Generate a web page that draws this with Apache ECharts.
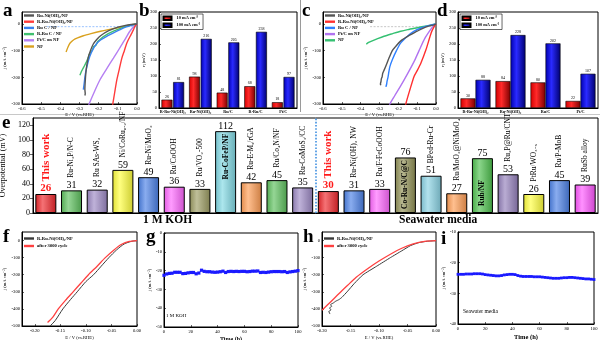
<!DOCTYPE html>
<html><head><meta charset="utf-8">
<script src="https://cdn.jsdelivr.net/npm/echarts@6/dist/echarts.min.js"></script>
<style>html,body{margin:0;padding:0;background:#fff}#c{width:600px;height:340px}</style>
</head><body><div id="c"></div><script>
// ---------------- data ----------------
// (a) HER polarization curves, 1 M KOH  [E (V vs. RHE), j (mA cm-2)]
const aRuNi   = [[0,0],[-0.03,-2],[-0.06,-5],[-0.1,-12],[-0.15,-26],[-0.19,-44],[-0.21,-58],[-0.228,-75],[-0.242,-98],[-0.254,-124],[-0.262,-155],[-0.267,-185],[-0.27,-215],[-0.272,-245],[-0.27,-262],[-0.272,-268]];
const aRRuNi  = [[0,0],[-0.01,-8],[-0.018,-21],[-0.03,-38],[-0.053,-71],[-0.066,-100],[-0.079,-128],[-0.092,-168],[-0.105,-209],[-0.116,-255],[-0.126,-299],[-0.128,-310]];
const aRuC    = [[0,0],[-0.03,-5],[-0.06,-12],[-0.088,-21],[-0.12,-32],[-0.158,-46],[-0.19,-60],[-0.21,-73],[-0.23,-95],[-0.246,-121],[-0.258,-150],[-0.267,-178],[-0.272,-200],[-0.276,-225],[-0.28,-246]];
const aRRuC   = [[0,0],[-0.03,-4],[-0.07,-12],[-0.1,-20],[-0.123,-27],[-0.15,-36],[-0.175,-47],[-0.193,-58],[-0.205,-66],[-0.215,-80],[-0.228,-86],[-0.232,-97],[-0.242,-103],[-0.25,-115],[-0.254,-126],[-0.262,-131],[-0.266,-145],[-0.272,-150],[-0.278,-162],[-0.284,-168],[-0.29,-178],[-0.295,-180],[-0.298,-192]];
const aPtC    = [[0,0],[-0.02,-12],[-0.04,-30],[-0.06,-55],[-0.09,-90],[-0.123,-128],[-0.16,-170],[-0.193,-209],[-0.22,-250],[-0.25,-300],[-0.255,-310]];
const aNF     = [[0,0],[-0.02,-2],[-0.05,-6],[-0.105,-15],[-0.15,-21],[-0.19,-27],[-0.24,-36],[-0.28,-44],[-0.31,-52],[-0.33,-59],[-0.35,-72],[-0.36,-86],[-0.37,-105]];
const aRefLine = [[-0.47,-10],[0,-10]];

// (b) overpotentials, 1 M KOH
const bCats = ['R-Ru-Ni(OH)₂','Ru-Ni(OH)₂','Ru/C','R-Ru/C','Pt/C'];
const b10   = [26, 98, 48, 68, 18];
const b100  = [81, 216, 205, 238, 97];

// (c) HER polarization curves, seawater
const cRuNi   = [[0,0],[-0.01,-3],[-0.04,-8],[-0.07,-16],[-0.1,-27],[-0.14,-42],[-0.19,-65],[-0.215,-85],[-0.232,-100],[-0.248,-125],[-0.262,-150],[-0.275,-172],[-0.283,-185],[-0.286,-198],[-0.29,-205],[-0.292,-215],[-0.295,-225],[-0.293,-230]];
const cRRuNi  = [[0,0],[-0.01,-10],[-0.025,-32],[-0.053,-96],[-0.08,-146],[-0.1,-175],[-0.116,-196],[-0.14,-250],[-0.16,-299],[-0.162,-310]];
const cRuC    = [[0,0],[-0.02,-3],[-0.05,-8],[-0.08,-15],[-0.116,-27],[-0.15,-45],[-0.187,-71],[-0.21,-100],[-0.232,-134],[-0.245,-160],[-0.25,-178],[-0.255,-200],[-0.26,-215],[-0.262,-225],[-0.266,-236]];
const cPtC    = [[0,0],[-0.015,-8],[-0.03,-22],[-0.06,-55],[-0.09,-100],[-0.116,-140],[-0.15,-185],[-0.19,-235],[-0.22,-270],[-0.244,-299],[-0.25,-310]];
const cNF     = [[0,0],[-0.02,-3],[-0.05,-7],[-0.1,-14],[-0.15,-21],[-0.187,-27],[-0.23,-36],[-0.276,-46],[-0.31,-55],[-0.345,-65],[-0.36,-70],[-0.37,-76]];
const cRefLine = [[-0.35,-10],[0,-10]];

// (d) overpotentials, seawater
const dCats = ['R-Ru-Ni(OH)₂','Ru-Ni(OH)₂','Ru/C','Pt/C'];
const d10   = [30, 84, 80, 22];
const d100  = [88, 228, 202, 107];

// (e) comparison with reported catalysts
const kohNames  = ['This work','Ru-Ni₂P/N-C','Ru SAs-WS₂','Ni/CoRu₀.₂/NF','Ru-Ni/MoO₂','Ru/CoOOH','Ru/VO₂-500','Ru-CoFeP/NF','Ru-E-Mₓ/rGA','Ru/Co₄N/NF','Ru-CoMoS₃/CC'];
const kohValues = [26, 31, 32, 59, 49, 36, 33, 112, 42, 45, 35];
const seaNames  = ['This work','Ru-Ni(OH)₂ NW','Ru/F-FeCoOOH','Co-Ru-N/C@C','BPed-Ru-Cr','Ru/MoO₂@NiMoO₄','Rub/NF','Ru₂P@Ru/CNT','PtRu/WO₃₋ₓ','Ru/P-MoB','RuSb alloy'];
const seaValues = [30, 31, 33, 76, 51, 27, 75, 53, 26, 45, 39];

// (f) stability, 1 M KOH
const fTicks  = [-0.2, -0.15, -0.1, -0.05, 0];
const fBefore = [[-0.17,-500],[-0.16,-468],[-0.145,-400],[-0.13,-345],[-0.117,-300],[-0.1,-240],[-0.085,-200],[-0.07,-150],[-0.055,-100],[-0.04,-55],[-0.025,-20],[-0.01,-4],[0,-1]];
const fAfter  = [[-0.175,-480],[-0.165,-450],[-0.154,-400],[-0.14,-350],[-0.125,-300],[-0.11,-250],[-0.095,-200],[-0.078,-150],[-0.062,-100],[-0.045,-55],[-0.03,-22],[-0.015,-5],[0,0]];

// (g) chronoamperometry, 1 M KOH
const gTime = [0,2,4,6,8,10,12,14,16,18,20,22,24,26,28,30,32,34,36,38,40,42,44,46,48,50,52,54,56,58,60,62,64,66,68,70,72,74,76,78,80,82,84,86,88,90,92,94,96,98,100];
const gJ    = [-22.5,-21.8,-21.5,-21.4,-20.9,-20.9,-20.9,-21.6,-21.5,-21.2,-21.0,-21.0,-21.7,-21.3,-19.8,-20.4,-20.6,-20.6,-20.8,-20.9,-20.8,-20.6,-20.3,-21.0,-20.5,-20.4,-20.5,-20.4,-20.5,-20.4,-20.4,-20.6,-20.5,-20.3,-20.3,-20.2,-21.0,-20.9,-21.0,-20.8,-20.6,-20.5,-20.5,-20.5,-20.6,-20.5,-21.0,-20.7,-20.5,-20.3,-20.0];

// (h) stability, seawater
const hBefore = [[-0.186,-430],[-0.188,-415],[-0.184,-405],[-0.187,-395],[-0.183,-385],[-0.185,-375],[-0.18,-365],[-0.176,-355],[-0.17,-345],[-0.165,-332],[-0.156,-300],[-0.143,-250],[-0.128,-200],[-0.104,-150],[-0.08,-100],[-0.06,-60],[-0.045,-30],[-0.03,-12],[-0.015,-4],[0,-1]];
const hAfter  = [[-0.2,-408],[-0.185,-360],[-0.17,-310],[-0.155,-262],[-0.14,-215],[-0.12,-165],[-0.1,-120],[-0.08,-80],[-0.06,-45],[-0.04,-20],[-0.02,-5],[0,-1]];

// (i) chronoamperometry, seawater
const iTime = [0,2,4,6,8,10,12,14,16,18,20,22,24,26,28,30,32,34,36,38,40,42,44,46,48,50,52,54,56,58,60,62,64,66,68,70,72,74,76,78,80,82,84,86,88,90,92,94,96,98,100];
const iJ    = [-23.8,-23.8,-23.8,-23.7,-23.7,-23.7,-23.6,-23.6,-23.6,-23.7,-23.9,-24.0,-24.1,-24.2,-24.3,-24.3,-24.2,-24.0,-23.9,-23.8,-23.8,-23.9,-24.2,-24.4,-24.5,-24.5,-24.5,-24.5,-24.6,-24.6,-24.6,-24.7,-24.8,-24.9,-25.0,-25.1,-25.1,-25.1,-25.0,-24.9,-24.9,-24.8,-24.8,-24.9,-25.0,-25.1,-25.2,-25.3,-25.3,-25.4,-25.5];

// ---------------- styling ----------------
const F = '"Liberation Serif","Times New Roman",serif';
const T = 4.6;           // tiny axis text
const J = 'j (mA cm⁻²)';
const E = 'E / V (vs.RHE)';

const chart = echarts.init(document.getElementById('c'), null, {renderer: 'canvas'});

function grid(left, top, width, height) {
  return {left, top, width, height, show: true, borderColor: '#000', borderWidth: 1,
          backgroundColor: 'transparent', containLabel: false, outerBoundsMode: 'none'};
}
function vAxis(gi, min, max, o) {
  o = o || {};
  return {
    type: 'value', gridIndex: gi, min, max, interval: o.interval,
    name: o.name, nameLocation: 'middle', nameGap: o.nameGap || 10,
    nameTextStyle: Object.assign({fontSize: T, fontFamily: F, color: '#000'}, o.nameStyle || {}),
    axisLine: {show: true, onZero: false, lineStyle: {color: '#000', width: 1}},
    axisTick: Object.assign({show: true, inside: true, length: 2, lineStyle: {color: '#000', width: 0.6}}, o.tick || {}),
    splitLine: {show: false},
    axisLabel: Object.assign({fontSize: T, fontFamily: F, color: '#000', margin: 2, showMaxLabel: o.showMax !== false}, o.label || {}),
    show: o.show !== false
  };
}
function cAxis(gi, data, o) {
  o = o || {};
  return {
    type: 'category', gridIndex: gi, data,
    axisLine: {show: true, onZero: false, lineStyle: {color: '#000', width: 1}},
    axisTick: {show: false},
    splitLine: {show: false},
    axisLabel: Object.assign({fontSize: 4.2, fontFamily: F, fontWeight: 'bold', color: '#000', margin: 2, interval: 0}, o.label || {})
  };
}
function shade(hex, f) {
  const n = parseInt(hex.slice(1), 16);
  let r = n >> 16, g = (n >> 8) & 255, b = n & 255;
  const t = f > 0 ? 255 : 0, p = Math.abs(f);
  r = Math.round(r + (t - r) * p); g = Math.round(g + (t - g) * p); b = Math.round(b + (t - b) * p);
  return 'rgb(' + r + ',' + g + ',' + b + ')';
}
function cyl(c) {
  return new echarts.graphic.LinearGradient(0, 0, 1, 0, [
    {offset: 0, color: shade(c, -0.12)},
    {offset: 0.35, color: shade(c, 0.35)},
    {offset: 1, color: shade(c, -0.2)}
  ]);
}
const RED = new echarts.graphic.LinearGradient(0, 0, 1, 0, [
  {offset: 0, color: '#d40000'}, {offset: 0.4, color: '#ff2a2a'}, {offset: 1, color: '#7a0000'}]);
const BLUE = new echarts.graphic.LinearGradient(0, 0, 1, 0, [
  {offset: 0, color: '#0000b0'}, {offset: 0.4, color: '#2a2aff'}, {offset: 1, color: '#00006e'}]);

function line(name, xi, data, color, extra) {
  return Object.assign({
    type: 'line', name, xAxisIndex: xi, yAxisIndex: xi, data,
    showSymbol: false, symbol: 'none', smooth: 0.25, clip: true,
    lineStyle: {color, width: 1.4}, itemStyle: {color}, silent: true, animation: false
  }, extra || {});
}
function refLine(xi, data, color) {
  return {type: 'line', xAxisIndex: xi, yAxisIndex: xi, data, symbol: 'none', silent: true,
          lineStyle: {color, width: 0.8, type: [2, 1.5]}, animation: false};
}
function bars(name, xi, data, color, width, gap) {
  return {type: 'bar', name, xAxisIndex: xi, yAxisIndex: xi, data, barWidth: width, barGap: gap,
          itemStyle: {color, borderColor: '#000', borderWidth: 0.6},
          label: {show: true, position: 'top', distance: 0.8, fontSize: 4, fontFamily: F, color: '#000'},
          animation: false};
}
function legend(left, top, names, o) {
  return Object.assign({
    left, top, orient: 'vertical', data: names, icon: 'rect', itemWidth: 10, itemHeight: 2.4,
    itemGap: 1.2, padding: 0, selectedMode: false,
    formatter: n => n.split('|').pop(),
    textStyle: {fontSize: 4.6, fontFamily: F, fontWeight: 'bold', color: '#000', padding: [0, 0, 0, -2]}
  }, o || {});
}

// ---- panel e series ----
const eNames = kohNames.concat(seaNames);
const eVals  = kohValues.concat(seaValues);
const ePalette = ['#f0262a','#5cc05c','#9c88c4','#ffff3c','#4a80e6','#ff66ff','#9c9c62','#80d8e4','#ff9c52','#5cc05c','#9c88c4',
                  '#f0262a','#4a80e6','#ff66ff','#929256','#88d2e4','#ff9c52','#4cc04c','#9480bc','#ffff3c','#4a80e6','#ff55ff'];
const insideTop = [7, 14], insideBottom = [17];
const isOwn = i => i === 0 || i === kohValues.length;

const eBarData = eVals.map((v, i) => ({
  value: v,
  itemStyle: {color: cyl(ePalette[i])},
  label: isOwn(i) ? {color: '#ff1a1a', fontWeight: 'bold', fontSize: 11} : {}
}));
const eNameData = eVals.map((v, i) => {
  let lab;
  if (insideTop.includes(i)) {
    lab = {position: 'insideTop', distance: 2.5, align: 'right', fontWeight: 'bold'};
  } else if (insideBottom.includes(i)) {
    lab = {position: 'insideBottom', distance: 7, align: 'left', fontWeight: 'bold'};
  } else {
    lab = {position: 'top', distance: 12.5, align: 'left'};
  }
  if (isOwn(i)) Object.assign(lab, {color: '#ff1a1a', fontWeight: 'bold', fontSize: 11});
  return {value: v, label: lab};
});

const option = {
  backgroundColor: '#fff',
  animation: false,
  textStyle: {fontFamily: F},
  grid: [
    grid(22, 12, 115, 92),     // a
    grid(159, 12, 138, 96),    // b
    grid(323, 12, 113, 92),    // c
    grid(458, 12, 140, 96),    // d
    grid(33, 118, 565, 95),    // e
    grid(22, 232, 115, 94),    // f
    grid(164, 233, 134, 94),   // g
    grid(322, 232, 114, 94),   // h
    grid(458, 232, 136, 92)    // i
  ],
  xAxis: [
    vAxis(0, -0.6, 0, {interval: 0.1, name: E, nameGap: 8, label: {formatter: v => v.toFixed(1)}}),
    cAxis(1, bCats),
    vAxis(2, -0.6, 0, {interval: 0.1, name: E, nameGap: 8, label: {formatter: v => v.toFixed(1)}}),
    cAxis(3, dCats),
    cAxis(4, eNames, {label: {show: false}}),
    vAxis(5, -0.225, 0, {name: E, nameGap: 9, label: {customValues: fTicks, formatter: v => v.toFixed(2)}, tick: {customValues: fTicks}}),
    vAxis(6, 0, 100, {interval: 20, name: 'Time (h)', nameGap: 9, nameStyle: {fontSize: 6, fontWeight: 'bold'}}),
    vAxis(7, -0.2, 0, {interval: 0.05, name: E, nameGap: 9, label: {formatter: v => v.toFixed(2)}}),
    vAxis(8, 0, 100, {interval: 20, name: 'Time (h)', nameGap: 10, nameStyle: {fontSize: 6.5, fontWeight: 'bold'}}),
    {type: 'value', gridIndex: 4, min: 0, max: eVals.length, show: false}
  ],
  yAxis: [
    vAxis(0, -300, 45, {interval: 100, name: J, nameGap: 12, showMax: false}),
    vAxis(1, 0, 300, {interval: 50, name: 'η (mV)', nameGap: 10}),
    vAxis(2, -300, 45, {interval: 100, name: J, nameGap: 12, showMax: false}),
    vAxis(3, 0, 300, {interval: 50, name: 'η (mV)', nameGap: 10}),
    vAxis(4, 0, 130, {interval: 20, name: 'Overpotential (mV)', nameGap: 18, showMax: false,
      nameStyle: {fontSize: 8}, label: {fontSize: 8, margin: 3}, tick: {inside: false, length: 3}}),
    vAxis(5, -500, 50, {interval: 100, name: J, nameGap: 12, showMax: false}),
    vAxis(6, -50, 0, {interval: 10, name: J, nameGap: 10}),
    vAxis(7, -500, 50, {interval: 100, name: J, nameGap: 12, showMax: false}),
    vAxis(8, -40, -10, {interval: 10, name: J, nameGap: 10})
  ],
  legend: [
    legend(24, 13, ['a|Ru-Ni(OH)₂/NF','a|R-Ru-Ni(OH)₂/NF','a|Ru C / NF','a|R-Ru C / NF','a|Pt/C on NF','a|NF']),
    legend(161, 14, ['10 mA cm⁻²','100 mA cm⁻²'], {itemWidth: 8, itemHeight: 3.5, itemGap: 1.5,
      borderColor: '#000', borderWidth: 0.6, padding: [1.5, 3, 1.5, 1.5], textStyle: {fontSize: 4.4, fontFamily: F, fontWeight: 'bold', color: '#000'}}),
    legend(325, 13, ['c|Ru-Ni(OH)₂/NF','c|R-Ru-Ni(OH)₂/NF','c|Ru C / NF','c|Pt/C on NF','c|NF']),
    legend(460, 14, ['10 mA cm⁻²','100 mA cm⁻²'], {itemWidth: 8, itemHeight: 3.5, itemGap: 1.5,
      borderColor: '#000', borderWidth: 0.6, padding: [1.5, 3, 1.5, 1.5], textStyle: {fontSize: 4.4, fontFamily: F, fontWeight: 'bold', color: '#000'}}),
    legend(24, 236, ['f|R-Ru-Ni(OH)₂/NF','f|after 3000 cycle'], {itemGap: 2.5}),
    legend(324, 236, ['h|R-Ru-Ni(OH)₂/NF','h|after 3000 cycle'], {itemGap: 2.5})
  ],
  series: [
    // a
    refLine(0, aRefLine, '#7fb2ff'),
    line('a|NF', 0, aNF, '#d9a11f'),
    line('a|Pt/C on NF', 0, aPtC, '#b57ff2'),
    line('a|R-Ru C / NF', 0, aRRuC, '#3fbf6e', {smooth: false}),
    line('a|Ru C / NF', 0, aRuC, '#3a82f0'),
    line('a|R-Ru-Ni(OH)₂/NF', 0, aRRuNi, '#ff3b3b'),
    line('a|Ru-Ni(OH)₂/NF', 0, aRuNi, '#555555'),
    // b
    bars('10 mA cm⁻²', 1, b10, RED, 11, '6%'),
    bars('100 mA cm⁻²', 1, b100, BLUE, 11, '6%'),
    // c
    refLine(2, cRefLine, '#b8b8b8'),
    line('c|NF', 2, cNF, '#35c072'),
    line('c|Pt/C on NF', 2, cPtC, '#b173f0'),
    line('c|Ru C / NF', 2, cRuC, '#2f80ff'),
    line('c|R-Ru-Ni(OH)₂/NF', 2, cRRuNi, '#ff3030'),
    line('c|Ru-Ni(OH)₂/NF', 2, cRuNi, '#555555'),
    // d
    bars('10 mA cm⁻²', 3, d10, RED, 15, '0%'),
    bars('100 mA cm⁻²', 3, d100, BLUE, 15, '0%'),
    // e
    {type: 'bar', xAxisIndex: 4, yAxisIndex: 4, data: eBarData, barWidth: 21, z: 2,
     itemStyle: {borderColor: '#000', borderWidth: 1},
     label: {show: true, position: 'top', distance: 0, fontSize: 10, fontFamily: F, color: '#000'}},
    {type: 'bar', xAxisIndex: 4, yAxisIndex: 4, data: eNameData, barWidth: 21, barGap: '-100%', z: 3, silent: true,
     itemStyle: {color: 'transparent', borderWidth: 0},
     label: {show: true, rotate: 90, verticalAlign: 'middle', fontSize: 7.5, fontFamily: F, color: '#000',
             formatter: p => eNames[p.dataIndex]}},
    {type: 'line', xAxisIndex: 9, yAxisIndex: 4, data: [[kohValues.length, 0]], symbol: 'none', silent: true,
     lineStyle: {opacity: 0},
     markLine: {silent: true, symbol: ['none', 'none'], label: {show: false},
                lineStyle: {color: '#3f8fe0', width: 1.6, type: 'dotted'},
                data: [{xAxis: kohValues.length}]}},
    // f
    line('f|R-Ru-Ni(OH)₂/NF', 5, fBefore, '#3a3a3a', {lineStyle: {color: '#3a3a3a', width: 1}}),
    line('f|after 3000 cycle', 5, fAfter, '#ff4040', {lineStyle: {color: '#ff4040', width: 1.3}}),
    // g
    {type: 'line', xAxisIndex: 6, yAxisIndex: 6, data: gTime.map((t, k) => [t, gJ[k]]),
     symbol: 'rect', symbolSize: 3.2, showSymbol: true, color: '#1a1aff',
     lineStyle: {color: '#1a1aff', width: 0.8}, itemStyle: {color: '#1a1aff'}},
    // h
    line('h|R-Ru-Ni(OH)₂/NF', 7, hBefore, '#3a3a3a', {smooth: 0.15, lineStyle: {color: '#3a3a3a', width: 1}}),
    line('h|after 3000 cycle', 7, hAfter, '#ff4040', {lineStyle: {color: '#ff4040', width: 1.3}}),
    // i
    {type: 'line', xAxisIndex: 8, yAxisIndex: 8, data: iTime.map((t, k) => [t, iJ[k]]),
     symbol: 'rect', symbolSize: 2.8, showSymbol: true, color: '#1a1aff',
     lineStyle: {color: '#1a1aff', width: 1.6}, itemStyle: {color: '#1a1aff'}}
  ],
  graphic: [
    {type: 'line', silent: true, shape: {x1: 300.5, y1: 0, x2: 300.5, y2: 112}, style: {stroke: '#9a9a9a', lineWidth: 1}},
    {type: 'line', silent: true, shape: {x1: 0, y1: 114.5, x2: 600, y2: 114.5}, style: {stroke: '#c8c8c8', lineWidth: 1}},
    ...[['a', 3, 2], ['b', 139, 2], ['c', 302, 2], ['d', 437, 2], ['e', 2, 114],
        ['f', 3, 228], ['g', 146, 228], ['h', 303, 228], ['i', 441, 230]].map(([t, x, y]) => ({
      type: 'text', left: x, top: y, silent: true,
      style: {text: t, font: 'bold 19px ' + F, fill: '#000'}
    })),
    {type: 'text', left: 143, top: 214, silent: true, style: {text: '1 M KOH', font: 'bold 11.5px ' + F, fill: '#000'}},
    {type: 'text', left: 399, top: 214, silent: true, style: {text: 'Seawater media', font: 'bold 11.5px ' + F, fill: '#000'}},
    {type: 'text', left: 166, top: 313, silent: true, style: {text: '1 M KOH', font: '5px ' + F, fill: '#000'}},
    {type: 'text', left: 463, top: 309, silent: true, style: {text: 'Seawater media', font: '5.5px ' + F, fill: '#000'}}
  ]
};
chart.setOption(option);
</script></body></html>
